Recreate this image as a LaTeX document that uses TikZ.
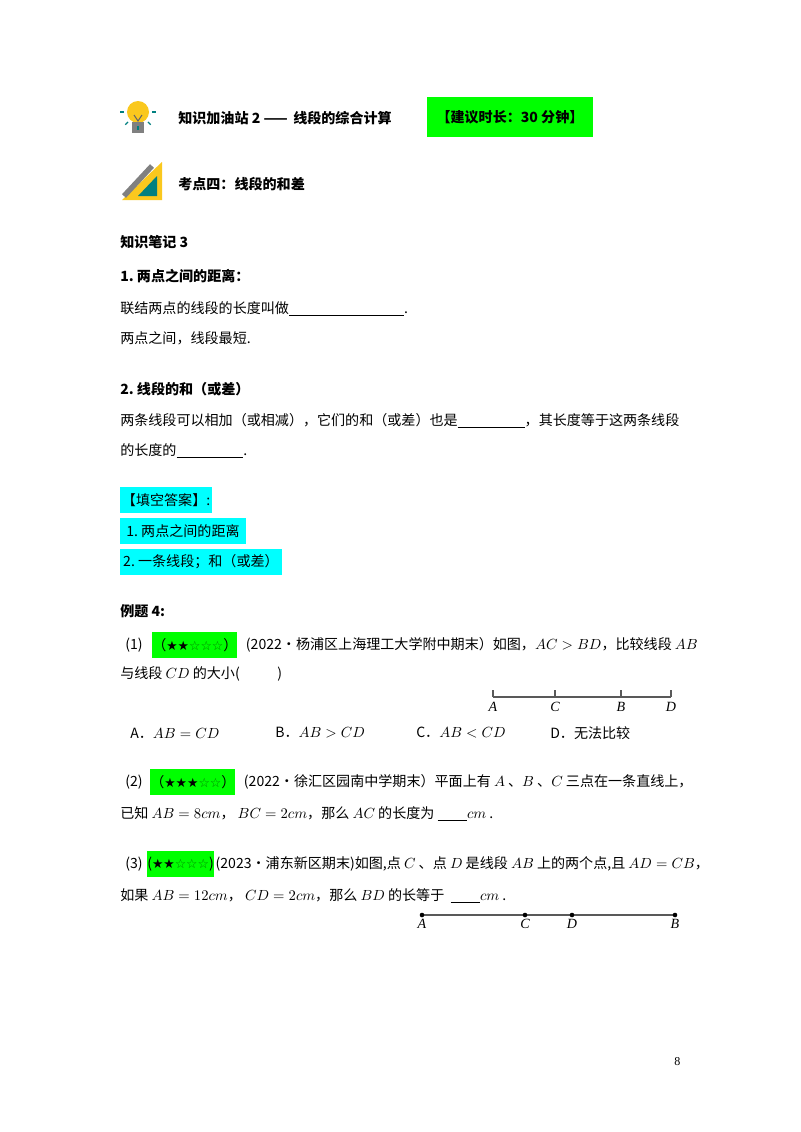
\documentclass[tikz,border=0pt]{standalone}
\usepackage{fontspec}
\setmainfont{Noto Sans CJK SC}
\newfontfamily\starf{DejaVu Sans}
\newfontfamily\serf{Liberation Serif}
\usetikzlibrary{positioning}
\definecolor{hlgreen}{RGB}{0,255,0}
\definecolor{hlcyan}{RGB}{0,255,255}
\definecolor{bulb}{RGB}{250,200,30}
\tikzset{%
	txt/.style={anchor=west,inner sep=0pt,font=\fontsize{10.5}{12}\selectfont},
	hd/.style={txt,font=\fontsize{10.5}{12}\selectfont\bfseries},
	hlg/.style={anchor=west,inner sep=0pt,fill=hlgreen,minimum height=20pt,font=\fontsize{10.5}{12}\selectfont},
	hlc/.style={anchor=west,inner sep=0pt,fill=hlcyan,minimum height=20pt,font=\fontsize{10.5}{12}\selectfont},
	lab/.style={inner sep=1pt,anchor=north,font=\fontsize{10.5}{12}\selectfont\serf\itshape},
	seg/.style={gray!70!black,thick},
}
\newcommand{\hollow}{{\starf\color{hlgreen!50!black}\fontsize{9.5}{10}\selectfont\char"2606}}
\newcommand{\full}{{\starf\fontsize{9.5}{10}\selectfont\char"2605}}
\begin{document}
\begin{tikzpicture}[x=0.02625cm,y=-0.02625cm]
			\useasboundingbox[fill=white] (0,0) rectangle (800,1132);
			
			%icons
			\fill[bulb] (138,112) circle (11);
			\fill[gray] (132,122) rectangle (144,133);
			\draw[gray!80!black,thick] (134,115) -- (138,121) -- (142,115);
			\foreach \a in {0,45,90,135,180} {\draw[teal,thick] (138,112) ++(\a:14) -- ++(\a:4);}
			\fill[bulb] (122,200) -- (162,200) -- (162,162) -- cycle;
			\fill[teal] (138,196) -- (157,196) -- (157,176) -- cycle;
			\draw[gray,line width=4pt] (124,196) -- (152,166);
			
			%headers
			\node[hd] (h1) at (178,118) {知识加油站 2 —— \,线段的综合计算};
			\node[hlg,font=\fontsize{10.5}{12}\selectfont\bfseries,minimum width=123.5pt,minimum height=29.8pt] (time) at (427,117) {【建议时长：30 分钟】};
			\node[hd] (h2) at (178,184) {考点四：线段的和差};
			\node[hd] (note) at (120,242) {知识笔记 3};
			
			%knowledge
			\node[hd] (k1) at (120,276) {1.\ 两点之间的距离：};
			\node[txt] (k1a) at (120,309) {联结两点的线段的长度叫做\underline{\hspace{86pt}}.};
			\node[txt] (k1b) at (120,338) {两点之间，线段最短.};
			\node[hd] (k2) at (120,389) {2.\ 线段的和（或差）};
			\node[txt] (k2a) at (120,421) {两条线段可以相加（或相减），它们的和（或差）也是\underline{\hspace{50pt}}，其长度等于这两条线段};
			\node[txt] (k2b) at (120,451) {的长度的\underline{\hspace{50pt}}.};
			
			%answers
			\node[hlc,minimum width=68.5pt] (ans) at (120,500) {【填空答案】:};
			\node[hlc,minimum width=93.7pt] (ans1) at (120,531) {1.\ 两点之间的距离};
			\node[hlc,minimum width=120.5pt] (ans2) at (120,562) {2.\ 一条线段；和（或差）};
			
			%example 4
			\node[hd] (ex) at (120,611) {例题 4:};
			\node[txt] (q1n) at (125,645) {(1)};
			\node[hlg,minimum width=55.8pt] (q1s) at (152,645) {（\full\full\hollow\hollow\hollow）};
			\node[txt,right=6pt of q1s] (q1t) {(2022•杨浦区上海理工大学附中期末）如图，$AC>BD$，比较线段 $AB$};
			\node[txt] (q1u) at (120,674) {与线段 $CD$ 的大小(\hspace{28pt})};
			\node[txt] (oa) at (130,733) {A．$AB=CD$};
			\node[txt] (ob) at (275,733) {B．$AB>CD$};
			\node[txt] (oc) at (416,733) {C．$AB<CD$};
			\node[txt] (od) at (550,733) {D．无法比较};
			
			%segment 1
			\coordinate (A1) at (493,697);
			\coordinate (C1) at (555,697);
			\coordinate (B1) at (621,697);
			\coordinate (D1) at (671,697);
			\draw[seg] (A1) -- (D1);
			\foreach \p in {A1,C1,B1,D1} {\draw[seg] (\p) -- ++(0,-7);}
			\node[lab] at ([yshift=-3pt]A1) {A};
			\node[lab] at ([yshift=-3pt]C1) {C};
			\node[lab] at ([yshift=-3pt]B1) {B};
			\node[lab] at ([yshift=-3pt]D1) {D};
			
			\node[txt] (q2n) at (125,782) {(2)};
			\node[hlg,minimum width=55.8pt] (q2s) at (150,782) {（\full\full\full\hollow\hollow）};
			\node[txt,right=6pt of q2s] (q2t) {(2022•徐汇区园南中学期末）平面上有 $A$ 、$B$ 、$C$ 三点在一条直线上，};
			\node[txt] (q2u) at (120,814) {已知 $AB=8cm$，\ $BC=2cm$，那么 $AC$ 的长度为 \underline{\hspace{22pt}}$cm$ .};
			
			\node[txt] (q3n) at (125,864) {(3)};
			\node[hlg,minimum width=46.9pt] (q3s) at (147,864) {(\full\full\hollow\hollow\hollow)};
			\node[txt,right=1pt of q3s] (q3t) {(2023•浦东新区期末)如图,点 $C$ 、点 $D$ 是线段 $AB$ 上的两个点,且 $AD=CB$，};
			\node[txt] (q3u) at (120,896) {如果 $AB=12cm$，\ $CD=2cm$，那么 $BD$ 的长等于 \ \underline{\hspace{22pt}}$cm$ .};
			
			%segment 2
			\coordinate (A2) at (422,915);
			\coordinate (C2) at (525,915);
			\coordinate (D2) at (572,915);
			\coordinate (B2) at (675,915);
			\draw[seg] (A2) -- (B2);
			\foreach \p in {A2,C2,D2,B2} {\fill (\p) circle (2.3);}
			\node[lab] at ([yshift=-2pt]A2) {A};
			\node[lab] at ([yshift=-2pt]C2) {C};
			\node[lab] at ([yshift=-2pt]D2) {D};
			\node[lab] at ([yshift=-2pt]B2) {B};
			
			\node[txt,font=\fontsize{9}{10}\selectfont\serf] (pg) at (674,1062) {8};
		\end{tikzpicture}
\end{document}
